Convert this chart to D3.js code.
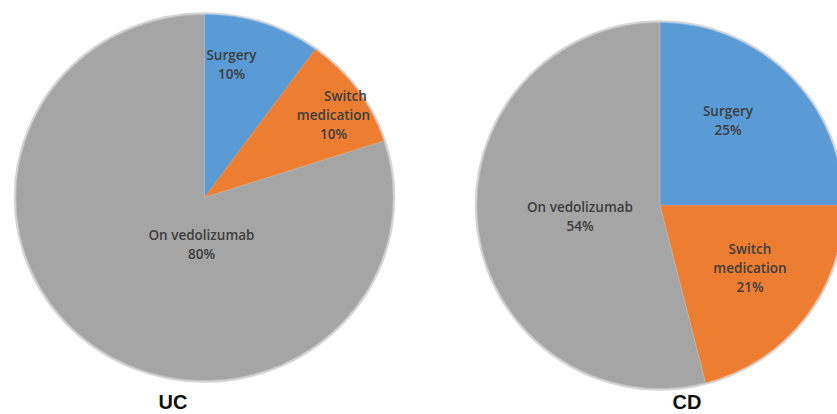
<!DOCTYPE html>
<html>
<head>
<meta charset="utf-8">
<script src="https://cdn.jsdelivr.net/npm/d3@7"></script>
<style>
  html, body { margin: 0; padding: 0; background: #ffffff; }
  svg { display: block; }
</style>
</head>
<body>
<svg id="chart" width="837" height="414"></svg>
<script>
// ---- data ----
const categories = ["Surgery", "Switch medication", "On vedolizumab"];
const labelLines = [["Surgery"], ["Switch", "medication"], ["On vedolizumab"]];
const ucValues = [10, 10, 80];
const cdValues = [25, 21, 54];
const chartTitles = ["UC", "CD"];

// ---- style / layout ----
const colors = d3.scaleOrdinal().domain(categories).range(["#5B9BD5", "#ED7D31", "#A5A5A5"]);
const layouts = [
  { cx: 204.5, cy: 197.5, r: 183, sx: 1.03, titleX: 173,
    labelPos: [[27, -133], [129, -82], [-3, 47]], lineShift: [[0], [12, 0], [0]] },
  { cx: 660, cy: 205.5, r: 183, sx: 1.0, titleX: 687,
    labelPos: [[68, -85], [90, 63], [-80, 11]], lineShift: [[0], [0, 0], [0]] }
];
const datasets = [ucValues, cdValues];

const svg = d3.select("#chart");
const pie = d3.pie().sort(null).startAngle(0).endAngle(2 * Math.PI);
const lineH = 19;

datasets.forEach((vals, i) => {
  const L = layouts[i];
  const data = categories.map((c, k) => ({ cat: c, value: vals[k], lines: labelLines[k] }));
  const arcs = pie.value(d => d.value)(data);
  const arc = d3.arc().innerRadius(0).outerRadius(L.r);

  const g = svg.append("g")
    .attr("transform", `translate(${L.cx},${L.cy}) scale(${L.sx},1)`);

  g.append("circle").attr("r", L.r + 1).attr("fill", "none")
    .attr("stroke", "#d4d4d4").attr("stroke-width", 2.5);

  g.selectAll("path.slice").data(arcs).enter().append("path")
    .attr("class", "slice")
    .attr("d", arc)
    .attr("fill", d => colors(d.data.cat))
    .attr("stroke", d => d3.color(colors(d.data.cat)).brighter(0.3))
    .attr("stroke-width", 0.6);

  const lg = svg.append("g").attr("transform", `translate(${L.cx},${L.cy})`);
  arcs.forEach((a, k) => {
    const lines = a.data.lines.concat([Math.round(a.data.value) + "%"]);
    const [ox, oy] = L.labelPos[k];
    const top = oy - (lines.length - 1) * lineH / 2;
    const t = lg.append("text")
      .attr("text-anchor", "middle")
      .attr("font-family", "'Open Sans', 'DejaVu Sans', sans-serif")
      .attr("font-weight", 600)
      .attr("font-size", 13.5)
      .attr("fill", "#3d3d3d");
    lines.forEach((ln, j) => {
      const shift = (L.lineShift[k][j] || 0);
      t.append("tspan")
        .attr("x", ox + shift)
        .attr("y", top + j * lineH)
        .attr("dy", "0.35em")
        .text(ln);
    });
  });

  svg.append("text")
    .attr("x", L.titleX)
    .attr("y", 409)
    .attr("text-anchor", "middle")
    .attr("font-family", "'Liberation Sans', Arial, sans-serif")
    .attr("font-weight", "bold")
    .attr("font-size", 20)
    .attr("fill", "#111111")
    .text(chartTitles[i]);
});
</script>
</body>
</html>
